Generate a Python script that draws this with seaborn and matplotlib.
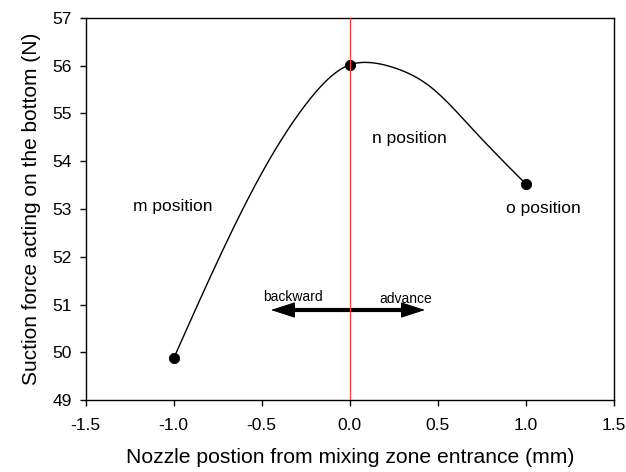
import numpy as np
import pandas as pd
import matplotlib
matplotlib.use("Agg")
import matplotlib.pyplot as plt
import seaborn as sns

# Data
positions = [-1.0, 0.0, 1.0]
suction_force = [49.87, 56.02, 53.52]
labels = ["m position", "n position", "o position"]
# Points
curve_x = [-1.0, -0.75, -0.5, -0.25, 0.0, 0.09, 0.25, 0.45, 0.7, 1.0]
curve_y = [49.87, 51.91, 53.75, 55.19, 56.02, 56.07, 55.96, 55.58, 54.66, 53.52]
x_ticks = [-1.5, -1.0, -0.5, 0.0, 0.5, 1.0, 1.5]
y_ticks = [49, 50, 51, 52, 53, 54, 55, 56, 57]


def natural_spline(x, y, n=400):
    x = np.asarray(x, float)
    y = np.asarray(y, float)
    k = len(x)
    h = np.diff(x)
    A = np.zeros((k, k))
    r = np.zeros(k)
    A[0, 0] = 1
    A[-1, -1] = 1
    for i in range(1, k - 1):
        A[i, i - 1] = h[i - 1]
        A[i, i] = 2 * (h[i - 1] + h[i])
        A[i, i + 1] = h[i]
        r[i] = 6 * ((y[i + 1] - y[i]) / h[i] - (y[i] - y[i - 1]) / h[i - 1])
    M = np.linalg.solve(A, r)
    xs = np.linspace(x[0], x[-1], n)
    ys = np.empty_like(xs)
    for j, t in enumerate(xs):
        i = min(np.searchsorted(x, t, side="right") - 1, k - 2)
        a = x[i + 1] - t
        b = t - x[i]
        hi = h[i]
        ys[j] = (M[i] * a**3 / (6 * hi) + M[i + 1] * b**3 / (6 * hi)
                 + (y[i] / hi - M[i] * hi / 6) * a
                 + (y[i + 1] / hi - M[i + 1] * hi / 6) * b)
    return xs, ys


sns.set_theme(style="ticks")
plt.rcParams["font.family"] = ["Liberation Sans", "DejaVu Sans"]
plt.rcParams.update({"text.color": "black", "axes.labelcolor": "black",
                     "xtick.color": "black", "ytick.color": "black",
                     "axes.edgecolor": "black"})

fig = plt.figure(figsize=(6.26, 4.72), dpi=100)
ax = fig.add_axes([0.1366, 0.1525, 0.8444, 0.8094])

xs, ys = natural_spline(curve_x, curve_y)
curve = pd.DataFrame({"x": xs, "y": ys})
pts = pd.DataFrame({"x": positions, "y": suction_force})

sns.lineplot(data=curve, x="x", y="y", ax=ax, color="black", linewidth=1.0, sort=False)
sns.scatterplot(data=pts, x="x", y="y", ax=ax, color="black", s=55, edgecolor="black", zorder=3)

ax.axvline(0, color="#ff3b3b", linewidth=0.9, zorder=5)

# double-headed arrow: thick shaft + filled heads
arrow_y = 50.885
ax.plot([-0.40, 0.38], [arrow_y, arrow_y], color="black", linewidth=3.0,
        solid_capstyle="butt", zorder=4)
ax.annotate("", xy=(-0.448, arrow_y), xytext=(0.427, arrow_y),
            arrowprops=dict(arrowstyle="<|-|>,head_length=1.3,head_width=0.42",
                            color="black", linewidth=0.8, shrinkA=0, shrinkB=0), zorder=4)
ax.text(-0.492, 51.08, "backward", fontsize=10, ha="left", va="baseline")
ax.text(0.166, 51.03, "advance", fontsize=10, ha="left", va="baseline")

ax.text(-1.23, 52.96, labels[0], fontsize=12.5, ha="left", va="baseline")
ax.text(0.125, 54.38, labels[1], fontsize=12.5, ha="left", va="baseline")
ax.text(0.887, 52.91, labels[2], fontsize=12.5, ha="left", va="baseline")

ax.set_xlim(-1.5, 1.5)
ax.set_ylim(49, 57)
ax.set_xticks(x_ticks)
ax.set_xticklabels([f"{v:.1f}" for v in x_ticks])
ax.set_yticks(y_ticks)
ax.set_yticklabels([str(v) for v in y_ticks])
ax.tick_params(axis="both", labelsize=12.5, length=4, width=1, color="black", direction="out")
ax.tick_params(axis="x", pad=9)
ax.tick_params(axis="y", pad=6)
for s in ax.spines.values():
    s.set_visible(True)
    s.set_color("black")
    s.set_linewidth(1.0)

ax.set_xlabel("Nozzle postion from mixing zone entrance (mm)", fontsize=15.2, labelpad=11)
ax.set_ylabel("Suction force acting on the bottom (N)", fontsize=15, labelpad=8)

fig.savefig("out.png", dpi=100)
